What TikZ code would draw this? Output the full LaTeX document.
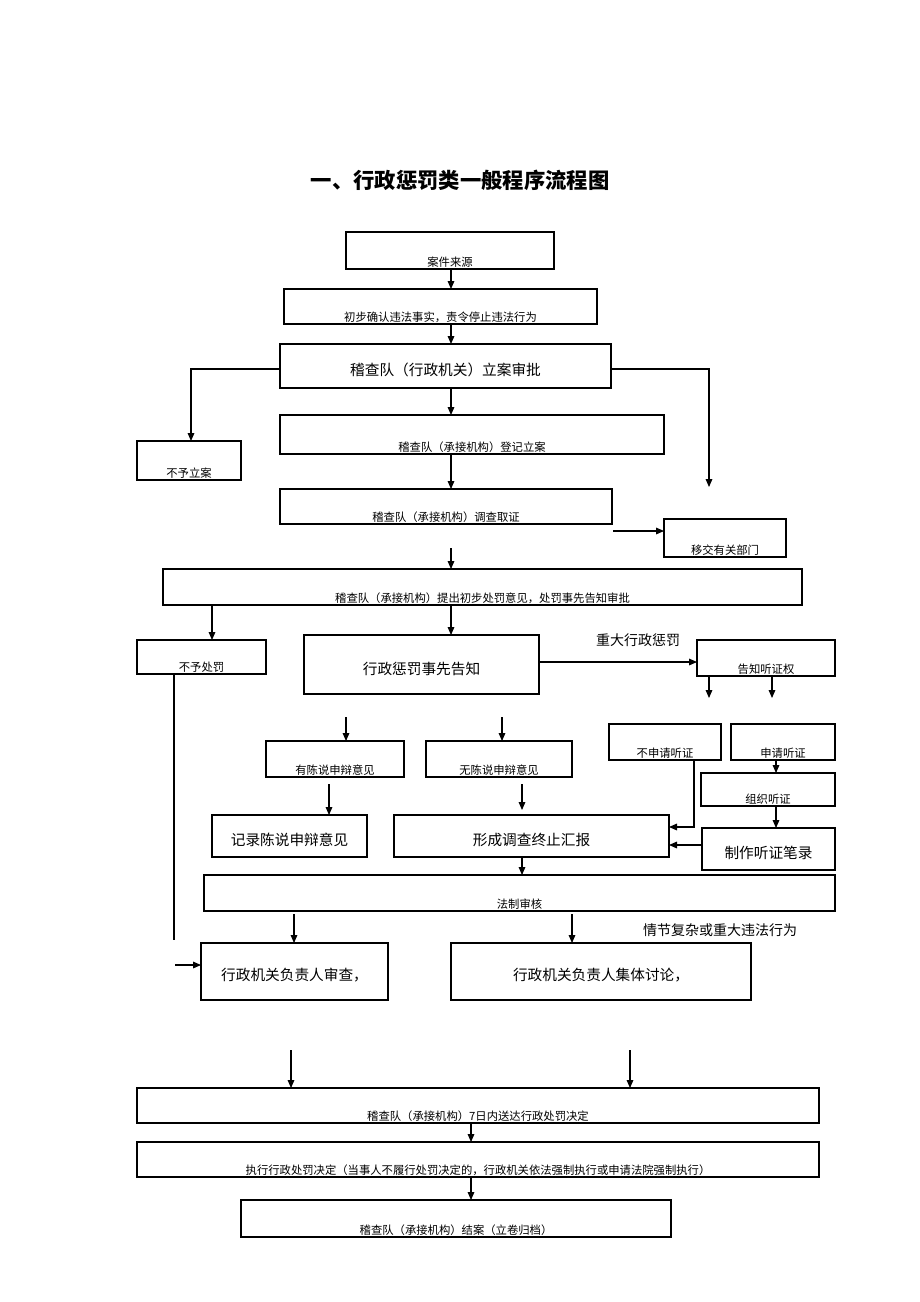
\documentclass[tikz,border=0pt]{standalone}
\usepackage{fontspec}
\setmainfont{Noto Sans CJK SC}
\usetikzlibrary{arrows.meta}
\begin{document}
\begin{tikzpicture}[x=0.75pt,y=-0.75pt,
 bx/.style={draw,line width=0.8pt},
 sm/.style={font=\fontsize{8.5}{10}\selectfont,anchor=south,inner sep=1pt},
 bg/.style={font=\fontsize{11}{13}\selectfont},
 ar/.style={-{Triangle[length=6pt,width=5pt]},line width=0.8pt},
 ln/.style={line width=0.8pt}]
\useasboundingbox (0,0) rectangle (920,1302);
\node[font=\fontsize{16}{18}\selectfont\bfseries] (title) at (460,180) {一、行政惩罚类一般程序流程图};
\newcommand\myS[6]{\draw[bx] (#2,#3) rectangle (#4,#5); \node[sm] (#1) at ({(#2+#4)/2},#5) {#6};}
\newcommand\myB[6]{\draw[bx] (#2,#3) rectangle (#4,#5); \node[bg] (#1) at ({(#2+#4)/2},{(#3+#5)/2+4}) {#6};}
\myS{src}{346}{232}{554}{269}{案件来源}
\myS{init}{284}{289}{597}{324}{初步确认违法事实，责令停止违法行为}
\myB{lian}{280}{344}{611}{388}{稽查队（行政机关）立案审批}
\myS{dengji}{280}{415}{664}{454}{稽查队（承接机构）登记立案}
\myS{buyu}{137}{441}{241}{480}{不予立案}
\myS{diaocha}{280}{489}{612}{524}{稽查队（承接机构）调查取证}
\myS{yijiao}{664}{519}{786}{557}{移交有关部门}
\myS{tichu}{163}{569}{802}{605}{稽查队（承接机构）提出初步处罚意见，处罚事先告知审批}
\myS{buyuch}{137}{640}{266}{674}{不予处罚}
\myB{gaozhi}{304}{635}{539}{694}{行政惩罚事先告知}
\myS{tz}{697}{640}{835}{676}{告知听证权}
\myS{you}{266}{741}{404}{777}{有陈说申辩意见}
\myS{wu}{426}{741}{572}{777}{无陈说申辩意见}
\myS{bushen}{609}{724}{721}{760}{不申请听证}
\myS{shen}{731}{724}{835}{760}{申请听证}
\myS{zuzhi}{701}{773}{835}{806}{组织听证}
\myB{jilu}{212}{815}{367}{857}{记录陈说申辩意见}
\myB{xc}{394}{815}{669}{857}{形成调查终止汇报}
\myB{bilu}{702}{828}{835}{870}{制作听证笔录}
\myS{fazhi}{204}{875}{835}{911}{法制审核}
\myB{shencha}{201}{943}{388}{1000}{行政机关负责人审查，}
\myB{jiti}{451}{943}{751}{1000}{行政机关负责人集体讨论，}
\myS{jd}{137}{1088}{819}{1123}{稽查队（承接机构）7日内送达行政处罚决定}
\myS{zx}{137}{1142}{819}{1177}{执行行政处罚决定（当事人不履行处罚决定的，行政机关依法强制执行或申请法院强制执行）}
\myS{ja}{241}{1200}{671}{1237}{稽查队（承接机构）结案（立卷归档）}
\node[bg,font=\fontsize{10.5}{12}\selectfont] (l1) at (638,640) {重大行政惩罚};
\node[bg,font=\fontsize{10.5}{12}\selectfont] (l2) at (720,930) {情节复杂或重大违法行为};
\newcommand\myA[5][--]{\coordinate (a1) at (#2,#3);\coordinate (a2) at (#4,#5);\draw[ar](a1)#1(a2);}
\myA{451}{269}{451}{289}
\myA{451}{324}{451}{344}
\myA{451}{388}{451}{415}
\myA[-|]{280}{369}{191}{441}
\myA[-|]{611}{369}{709}{487}
\myA{451}{454}{451}{489}
\myA{613}{531}{664}{531}
\myA{451}{548}{451}{569}
\myA{212}{605}{212}{640}
\myA{451}{605}{451}{635}
\myA{539}{662}{697}{662}
\myA{709}{676}{709}{698}
\myA{772}{676}{772}{698}
\myA{346}{717}{346}{741}
\myA{502}{717}{502}{741}
\myA{329}{784}{329}{815}
\myA{522}{784}{522}{810}
\myA{776}{760}{776}{773}
\myA{776}{806}{776}{828}
\myA[|-]{694}{760}{669}{827}
\myA{702}{845}{669}{845}
\myA{522}{857}{522}{875}
\coordinate (b1) at (174,674);\coordinate (b2) at (174,940);\draw[ln](b1)--(b2);
\myA{175}{965}{201}{965}
\myA{294}{914}{294}{943}
\myA{572}{914}{572}{943}
\myA{291}{1050}{291}{1088}
\myA{630}{1050}{630}{1088}
\myA{471}{1123}{471}{1142}
\myA{471}{1177}{471}{1200}
\end{tikzpicture}
\end{document}
